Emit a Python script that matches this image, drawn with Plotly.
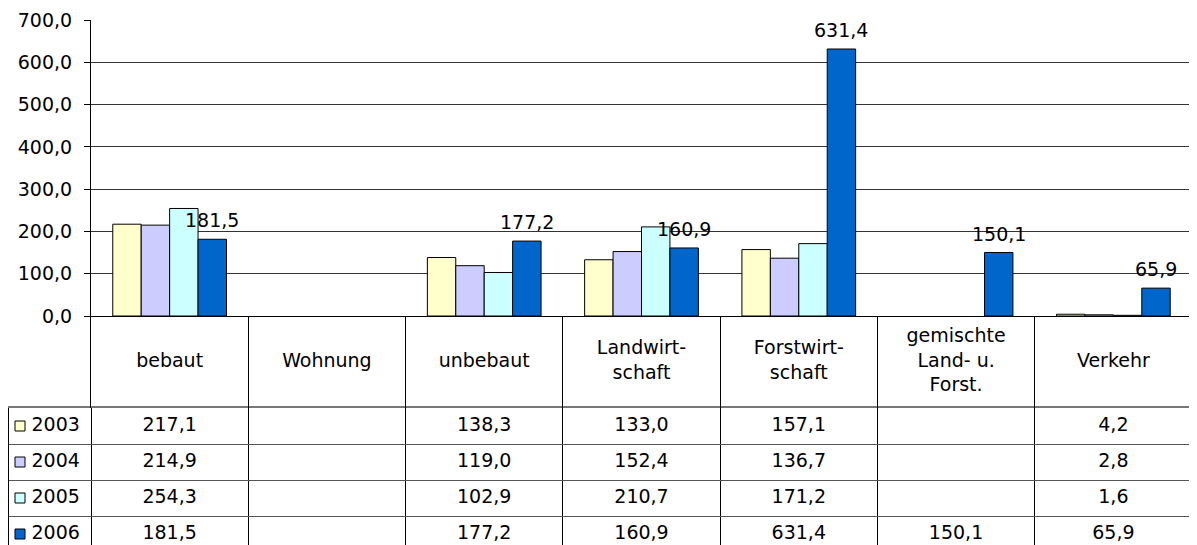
import plotly.graph_objects as go

# ---------------- data ----------------
categories = ["bebaut", "Wohnung", "unbebaut", "Landwirtschaft", "Forstwirtschaft",
              "gemischte Land- u. Forst.", "Verkehr"]
category_labels = ["bebaut", "Wohnung", "unbebaut", "Landwirt-<br>schaft", "Forstwirt-<br>schaft",
                   "gemischte<br>Land- u.<br>Forst.", "Verkehr"]
years = ["2003", "2004", "2005", "2006"]
v2003 = [217.1, None, 138.3, 133.0, 157.1, None, 4.2]
v2004 = [214.9, None, 119.0, 152.4, 136.7, None, 2.8]
v2005 = [254.3, None, 102.9, 210.7, 171.2, None, 1.6]
v2006 = [181.5, None, 177.2, 160.9, 631.4, 150.1, 65.9]
series = [v2003, v2004, v2005, v2006]
colors = ["#FFFFCC", "#CCCCFF", "#CCFFFF", "#0066CC"]
y_ticks = [0, 100, 200, 300, 400, 500, 600, 700]

# ---------------- layout geometry (window pixels) ----------------
WIN_W, WIN_H = 1197, 545
PAGE_OFF = 8                      # default body margin of the page
W, H = WIN_W - PAGE_OFF, WIN_H - PAGE_OFF
PLOT_L, PLOT_R, LEG_L = 91, 1192, 8.5
PLOT_T, AXIS_Y, HEAD_B, ROW_H = 20, 316, 408, 36
BARGAP = 0.277
FONT = "DejaVu Sans"
FS = 19

def fx(p):
    return (p - PAGE_OFF) / W

def fy(p):
    return 1 - (p - PAGE_OFF) / H

cat_w = (PLOT_R - PLOT_L) / len(categories)
x_left = -0.5 - (PLOT_L - LEG_L) / cat_w
body_rows = (WIN_H - HEAD_B) / ROW_H

def fmt(v):
    return "" if v is None else f"{v:.1f}".replace(".", ",")

fig = go.Figure()

# bars
for yr, vals, col in zip(years, series, colors):
    fig.add_trace(go.Bar(
        x=categories, y=vals, name=yr,
        marker=dict(color=col, line=dict(color="#000000", width=1)),
        hoverinfo="skip", xaxis="x", yaxis="y"))

# labels for 2006 bars
shift = 3 / 8 * (1 - BARGAP) * cat_w
for cat, v in zip(categories, v2006):
    if v is not None:
        fig.add_annotation(x=cat, y=v, xref="x", yref="y", text=fmt(v),
                           showarrow=False, xshift=shift, yanchor="bottom", yshift=6,
                           font=dict(family=FONT, size=FS, color="#000"))

idx = list(range(len(categories)))

# header row (category names)
fig.add_trace(go.Scatter(
    x=idx, y=[0.5] * len(idx), text=category_labels, mode="text",
    textposition="middle center", textfont=dict(family=FONT, size=FS, color="#000"),
    hoverinfo="skip", xaxis="x3", yaxis="y3", cliponaxis=False))

# data rows
for r, (yr, vals, col) in enumerate(zip(years, series, colors)):
    fig.add_trace(go.Scatter(
        x=idx, y=[r] * len(idx), text=[fmt(v) for v in vals], mode="text",
        textposition="middle center", textfont=dict(family=FONT, size=FS, color="#000"),
        hoverinfo="skip", xaxis="x2", yaxis="y2", cliponaxis=False))
    # legend key
    fig.add_trace(go.Scatter(
        x=[x_left + 11.5 / cat_w], y=[r], mode="markers",
        marker=dict(symbol="square", size=10, color=col, line=dict(color="#000", width=1)),
        hoverinfo="skip", xaxis="x2", yaxis="y2", cliponaxis=False))
    fig.add_trace(go.Scatter(
        x=[x_left + 23 / cat_w], y=[r], text=[yr], mode="text",
        textposition="middle right", textfont=dict(family=FONT, size=FS, color="#000"),
        hoverinfo="skip", xaxis="x2", yaxis="y2", cliponaxis=False))

bounds = [i + 0.5 for i in range(-1, len(categories) - 1)]

fig.update_layout(
    width=W, height=H, margin=dict(l=0, r=0, t=0, b=0, autoexpand=False),
    paper_bgcolor="white", plot_bgcolor="white",
    showlegend=False, barmode="group", bargap=BARGAP, bargroupgap=0,
    separators=",.",
    font=dict(family=FONT, size=FS, color="#000"),
    xaxis=dict(domain=[fx(PLOT_L), fx(PLOT_R)], anchor="y", type="category",
               categoryorder="array", categoryarray=categories,
               range=[-0.5, len(categories) - 0.5], automargin=False,
               showticklabels=False, ticks="", showgrid=False, zeroline=False,
               showline=True, linecolor="#000", linewidth=1),
    yaxis=dict(domain=[fy(AXIS_Y), fy(PLOT_T)], anchor="x", range=[0, 700],
               tickvals=y_ticks, tickformat=".1f", automargin=False,
               showgrid=True, gridcolor="#333", gridwidth=1, zeroline=False,
               showline=True, linecolor="#000", linewidth=1,
               ticks="outside", ticklen=6, tickcolor="#000", ticklabelstandoff=8,
               tickfont=dict(family=FONT, size=FS, color="#000")),
    # header row subplot
    xaxis3=dict(domain=[fx(PLOT_L), fx(PLOT_R)], anchor="y3", range=[-0.5, len(categories) - 0.5],
                tickvals=bounds[1:], showticklabels=False, ticks="", automargin=False,
                showgrid=True, gridcolor="#000", gridwidth=1, zeroline=False, showline=False),
    yaxis3=dict(domain=[fy(HEAD_B), fy(AXIS_Y)], anchor="x3", range=[0, 1], automargin=False,
                showticklabels=False, ticks="", showgrid=False, zeroline=False,
                showline=True, mirror=True, linecolor="#000", linewidth=1),
    # body rows subplot
    xaxis2=dict(domain=[fx(LEG_L), fx(PLOT_R)], anchor="y2", range=[x_left, len(categories) - 0.5],
                side="top", tickvals=bounds, showticklabels=False, ticks="", automargin=False,
                showgrid=True, gridcolor="#000", gridwidth=1, zeroline=False,
                showline=True, linecolor="#777", linewidth=2),
    yaxis2=dict(domain=[0, fy(HEAD_B)], anchor="x2", range=[body_rows - 0.5, -0.5],
                tickvals=[0.5, 1.5, 2.5], showticklabels=False, ticks="", automargin=False,
                showgrid=True, gridcolor="#555", gridwidth=1, zeroline=False,
                showline=True, mirror=True, linecolor="#000", linewidth=1),
)

fig.write_html("out.html")
